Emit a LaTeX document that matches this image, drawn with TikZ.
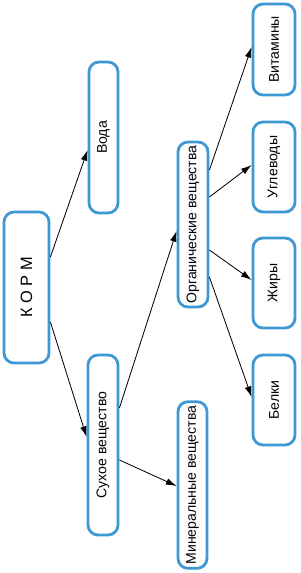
\documentclass[tikz,border=0pt]{standalone}
\usepackage{fontspec}
\setmainfont{Liberation Sans}
\usetikzlibrary{arrows.meta}
\definecolor{boxblue}{RGB}{62,152,212}

\begin{document}
\begin{tikzpicture}[x=.3mm,y=-.3mm,font=\fontsize{12}{14}\selectfont,
  box/.style={draw=boxblue,line width=2.4pt,rounded corners=3mm,fill=white,inner sep=0pt},
  link/.style={-{Latex[length=3.2mm,width=2mm]},line width=.7pt}]
\useasboundingbox (0,0) rectangle (300,573);
\node[box,minimum width=13.5mm,minimum height=45.3mm] (korm) at (26.5,287.5) {\rotatebox{90}{\fontsize{14}{16}\selectfont К О Р М}};
\node[box,minimum width=8.7mm,minimum height=45.3mm] (voda) at (103.5,137.5) {\rotatebox{90}{Вода}};
\node[box,minimum width=9mm,minimum height=54mm] (suhoe) at (103,445) {\rotatebox{90}{Сухое вещество}};
\node[box,minimum width=9mm,minimum height=49.5mm] (organ) at (193,224.5) {\rotatebox{90}{Органические вещества}};
\node[box,minimum width=8.7mm,minimum height=50mm] (mineral) at (192.5,485) {\rotatebox{90}{Минеральные вещества}};
\node[box,minimum width=12.6mm,minimum height=27.3mm] (vitamin) at (274,49.5) {\rotatebox{90}{Витамины}};
\node[box,minimum width=12.6mm,minimum height=27mm] (uglevod) at (274,167) {\rotatebox{90}{Углеводы}};
\node[box,minimum width=12.6mm,minimum height=27mm] (zhiry) at (274,283) {\rotatebox{90}{Жиры}};
\node[box,minimum width=12.6mm,minimum height=27mm] (belki) at (274,400) {\rotatebox{90}{Белки}};
% arrows
\draw[link] ([yshift=9.15mm]korm.east) -- ([yshift=-3.75mm]voda.west);
\draw[link] ([yshift=-10.35mm]korm.east) -- ([yshift=2.4mm]suhoe.west);
\draw[link] ([yshift=11.1mm]suhoe.east) -- ([yshift=-1.95mm]organ.west);
\draw[link] ([yshift=-4.5mm]suhoe.east) -- ([yshift=-0.3mm]mineral.west);
\draw[link] ([yshift=16.35mm]organ.east) -- ([yshift=.75mm]vitamin.west);
\draw[link] ([yshift=8.25mm]organ.east) -- ([yshift=.6mm]uglevod.west);
\draw[link] ([yshift=-7.65mm]organ.east) -- ([yshift=.9mm]zhiry.west);
\draw[link] ([yshift=-15.75mm]organ.east) -- ([yshift=.9mm]belki.west);
\end{tikzpicture}
\end{document}
